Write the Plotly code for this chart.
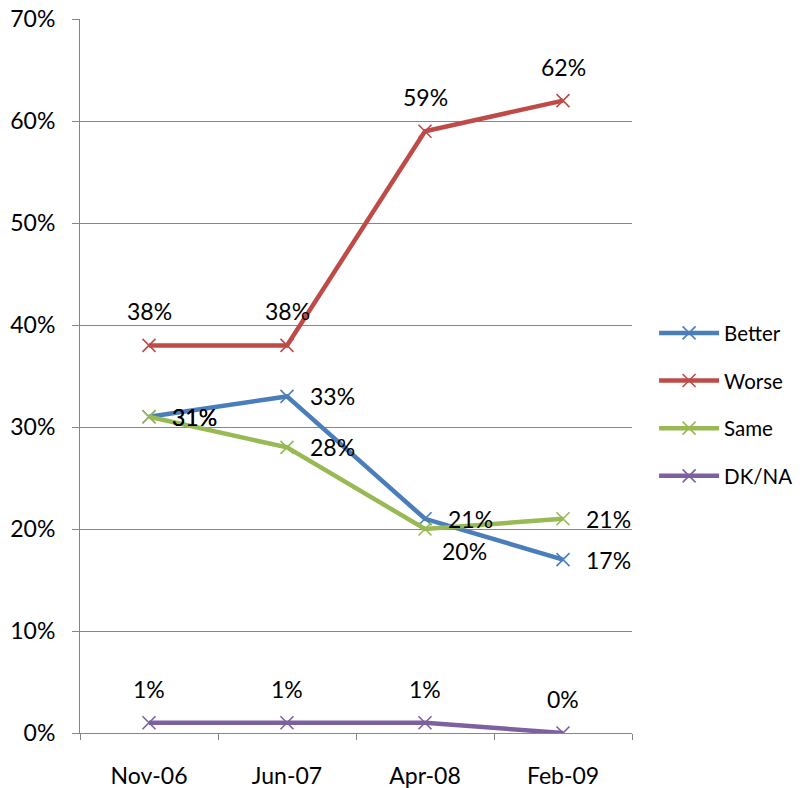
import plotly.graph_objects as go

categories = ["Nov-06", "Jun-07", "Apr-08", "Feb-09"]
better = [31, 33, 21, 17]
worse = [38, 38, 59, 62]
same = [31, 28, 20, 21]
dkna = [1, 1, 1, 0]
y_ticks = [0, 10, 20, 30, 40, 50, 60, 70]

series = [
    ("Better", better, "#4A7EBB"),
    ("Worse", worse, "#BE4B48"),
    ("Same", same, "#98B954"),
    ("DK/NA", dkna, "#7D60A0"),
]

# label placement per series/point: (xanchor, yanchor, xshift, yshift)
R = ("left", "middle", 21, 0)
T = ("center", "bottom", 0, 18)
BR = ("left", "top", 15, -6)
placements = {
    "Better": [R, R, R, R],
    "Worse": [T, T, T, T],
    "Same": [R, R, BR, R],
    "DK/NA": [T, T, T, T],
}

FONT = "Lato"
FS = 23

fig = go.Figure()
annotations = []
for i, (name, vals, col) in enumerate(series):
    fig.add_trace(go.Scatter(
        x=categories, y=vals, name=name, mode="lines+markers",
        line=dict(color=col, width=4.5),
        marker=dict(symbol="x-thin-open", size=13, color=col, line=dict(color=col, width=1.6)),
        legendgroup=name,
    ))
    for c, v, p in zip(categories, vals, placements[name]):
        annotations.append(dict(
            x=c, y=v, text=f"{v}%", showarrow=False,
            xanchor=p[0], yanchor=p[1], xshift=p[2], yshift=p[3],
            font=dict(size=FS, color="#000000", family=FONT),
        ))

# the page body adds an 8px margin: margins are shifted to keep the plot in place
fig.update_layout(
    width=787, height=780,
    margin=dict(l=72, r=163, t=11, b=55, autoexpand=False),
    paper_bgcolor="white", plot_bgcolor="white",
    font=dict(family=FONT, size=FS, color="#000000"),
    showlegend=True,
    legend=dict(x=1.04, y=0.46, xanchor="left", yanchor="middle",
                font=dict(size=20.5), tracegroupgap=18, itemwidth=60,
                bgcolor="rgba(0,0,0,0)"),
    annotations=annotations,
    xaxis=dict(
        type="category", range=[-0.5, 3.5], automargin=False,
        showline=True, linecolor="#868686", linewidth=1,
        ticks="outside", tickson="boundaries", ticklen=6, tickcolor="#868686",
        showgrid=False, zeroline=False, ticklabelstandoff=22,
    ),
    yaxis=dict(
        range=[0, 70], tickvals=y_ticks, ticktext=[f"{v}%" for v in y_ticks],
        automargin=False, ticklabeloverflow="allow",
        showline=True, linecolor="#868686", linewidth=1,
        ticks="outside", ticklen=7, tickcolor="#868686",
        showgrid=True, gridcolor="#868686", gridwidth=1, zeroline=False,
        ticklabelstandoff=12,
    ),
)

fig.write_html("out.html")
